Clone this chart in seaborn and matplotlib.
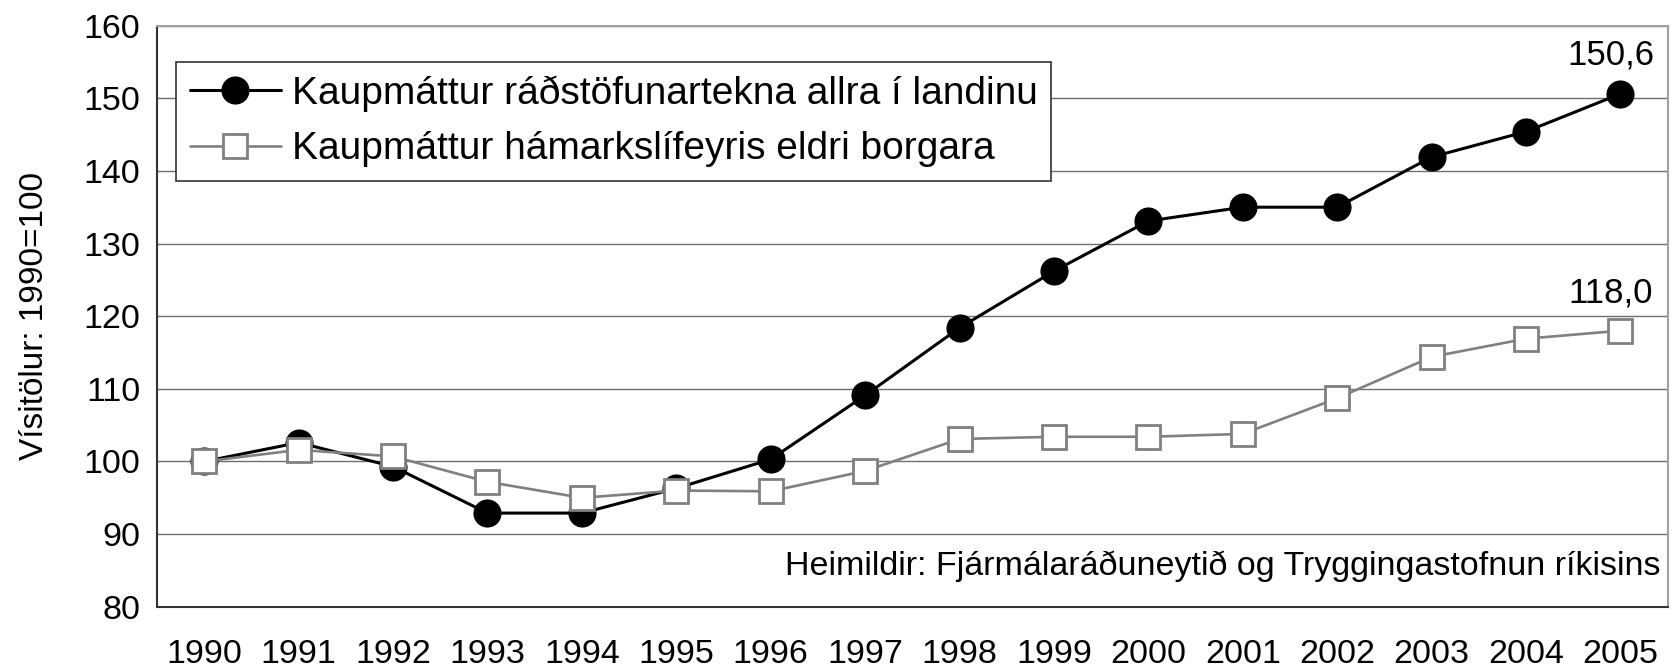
import numpy as np
import pandas as pd
import matplotlib
matplotlib.use("Agg")
import matplotlib.pyplot as plt
import seaborn as sns
from matplotlib.ticker import FixedLocator

years = [str(y) for y in range(1990, 2006)]
kaupmattur_allra = [100.0, 102.6, 99.3, 92.9, 92.9, 96.3, 100.3, 109.1, 118.4,
                    126.2, 133.1, 135.0, 135.0, 141.9, 145.4, 150.6]
kaupmattur_lifeyris = [100.0, 101.6, 100.7, 97.2, 95.0, 96.0, 95.9, 98.7, 103.1,
                       103.4, 103.4, 103.8, 108.7, 114.4, 116.9, 118.0]
label_allra = "Kaupmáttur ráðstöfunartekna allra í landinu"
label_lifeyris = "Kaupmáttur hámarkslífeyris eldri borgara"

df = pd.DataFrame({"ar": years, "allra": kaupmattur_allra, "lifeyris": kaupmattur_lifeyris})

sns.set_style("white")
plt.rcParams['font.family'] = ['Liberation Sans', 'DejaVu Sans']
plt.rcParams['text.color'] = 'black'
plt.rcParams['axes.labelcolor'] = 'black'

fig = plt.figure(figsize=(16.76, 6.72), dpi=100)
ax = fig.add_axes([0.0937, 0.097, 0.9013, 0.865])

sns.lineplot(data=df, x="ar", y="allra", ax=ax, color="black", linewidth=2.2,
             marker="o", markersize=19.5, markerfacecolor="black",
             markeredgecolor="black", label=label_allra, sort=False)
sns.lineplot(data=df, x="ar", y="lifeyris", ax=ax, color="#808080", linewidth=1.9,
             marker="s", markersize=17, markerfacecolor="white",
             markeredgecolor="#808080", markeredgewidth=2,
             label=label_lifeyris, sort=False)

ax.set_xlim(-0.5, len(years) - 0.5)
ax.set_ylim(80, 160)
ax.set_yticks(np.arange(80, 161, 10))
ax.yaxis.grid(True, color="#6e6e6e", linewidth=1)
ax.xaxis.grid(False)

# marks between the years, labels centred on each year
ax.xaxis.set_minor_locator(FixedLocator(np.arange(-0.5, len(years), 1)))
ax.tick_params(axis="x", which="major", length=0, labelsize=24.5, pad=23,
               labelcolor="black")
ax.tick_params(axis="x", which="minor", length=6, width=1, color="#333333", direction="out")
ax.tick_params(axis="y", which="major", length=6, width=1, color="#333333",
               direction="out", labelsize=24.5, pad=6, labelcolor="black")

for s in ["left", "bottom"]:
    ax.spines[s].set_color("#333333")
    ax.spines[s].set_linewidth(1.5)
for s in ["top", "right"]:
    ax.spines[s].set_color("#a0a0a0")
    ax.spines[s].set_linewidth(1.5)

ax.set_xlabel("")
ax.set_ylabel("Vísitölur: 1990=100", fontsize=24, labelpad=24)

leg = ax.legend(loc="upper left", bbox_to_anchor=(0.0126, 0.938), borderaxespad=0,
                fancybox=False, framealpha=1, edgecolor="#333333",
                prop={"size": 28}, handlelength=2.35,
                borderpad=0.35, labelspacing=0.5, handletextpad=0.27)
leg.get_frame().set_linewidth(1.2)
for t in leg.get_texts():
    t.set_color("black")

ax.annotate("150,6", (len(years) - 1, kaupmattur_allra[-1]), xytext=(-7, 28),
            textcoords="offset points", ha="center", va="center", fontsize=25)
ax.annotate("118,0", (len(years) - 1, kaupmattur_lifeyris[-1]), xytext=(-7, 27),
            textcoords="offset points", ha="center", va="center", fontsize=25)

ax.text(0.995, 0.069, "Heimildir: Fjármálaráðuneytið og Tryggingastofnun ríkisins",
        transform=ax.transAxes, ha="right", va="center", fontsize=24.5)

fig.savefig("out.png", dpi=100)
